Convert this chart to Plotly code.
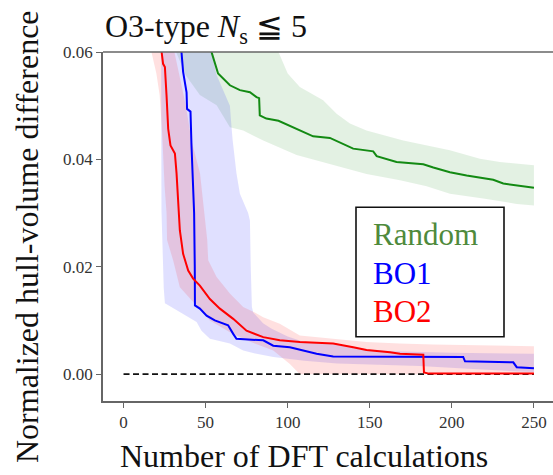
import plotly.graph_objects as go

# ---------------- data ----------------
rand_x = [53.0, 53.6, 57.6, 64.8, 70.9, 77.0, 81.0, 82.6, 83.0, 87.0, 94.4, 107.4, 115.5, 125.7,
          139.9, 152.1, 154.2, 166.3, 182.6, 188.7, 198.8, 209.0, 225.2, 231.3, 250.0]
rand_y = [0.065, 0.0600, 0.0560, 0.0538, 0.0529, 0.0525, 0.0516, 0.0514, 0.0482, 0.0476, 0.0472,
          0.0454, 0.0443, 0.0440, 0.0420, 0.0415, 0.0406, 0.0395, 0.0391, 0.0385, 0.0376, 0.0370,
          0.0362, 0.0355, 0.0347]
rand_lo_x = [30.0, 32.0, 38.0, 46.5, 56.7, 64.8, 72.9, 85.1, 105.4, 127.7, 148.0, 168.4, 184.6,
             198.8, 219.1, 239.5, 250.0]
rand_lo_y = [0.066, 0.0600, 0.0556, 0.0520, 0.0501, 0.0460, 0.0454, 0.0435, 0.0408, 0.0389, 0.0373,
             0.0361, 0.0350, 0.0336, 0.0327, 0.0317, 0.0314]
rand_hi_x = [30.0, 90.0, 94.4, 100.0, 107.4, 121.6, 129.8, 137.9, 148.0, 170.4, 198.8, 217.1, 229.3, 250.0]
rand_hi_y = [0.075, 0.065, 0.0600, 0.0560, 0.0535, 0.0510, 0.0485, 0.0467, 0.0454, 0.0435, 0.0417,
             0.0401, 0.0395, 0.0389]

bo1_x = [35.2, 35.3, 36.3, 38.4, 38.7, 40.8, 41.4, 43.0, 43.4, 43.5, 46.5, 50.6, 55.6, 63.7, 66.8,
         68.8, 85.1, 91.2, 101.3, 107.4, 117.6, 127.7, 206.9, 208.0, 237.4, 239.5, 250.0]
bo1_y = [0.066, 0.0600, 0.0563, 0.0525, 0.0494, 0.0489, 0.0426, 0.0300, 0.0200, 0.0128, 0.0122,
         0.0109, 0.0100, 0.0091, 0.0075, 0.0066, 0.0063, 0.0053, 0.0050, 0.0045, 0.0038, 0.0033,
         0.0032, 0.0024, 0.0022, 0.0013, 0.0011]
bo1_lo_x = [22.8, 23.1, 24.5, 25.2, 26.0, 36.3, 44.5, 47.5, 52.6, 64.8, 72.9, 81.0, 91.2, 110.0,
            130.0, 150.0, 180.0, 210.0, 240.0, 250.0]
bo1_lo_y = [0.070, 0.0305, 0.0160, 0.0132, 0.0130, 0.0112, 0.0097, 0.0081, 0.0066, 0.0057, 0.0044,
            0.0038, 0.0032, 0.0025, 0.0020, 0.0018, 0.0015, 0.0010, 0.0005, 0.0004]
bo1_hi_x = [22.8, 53.6, 56.7, 62.0, 64.8, 65.8, 66.5, 68.8, 70.9, 75.9, 77.0, 77.5, 78.2, 79.0,
            85.0, 90.0, 100.0, 110.0, 130.0, 150.0, 170.0, 200.0, 250.0]
bo1_hi_y = [0.070, 0.0600, 0.0557, 0.0520, 0.0500, 0.0460, 0.0435, 0.0374, 0.0336, 0.0300, 0.0286,
            0.0200, 0.0125, 0.0115, 0.0095, 0.0085, 0.0070, 0.0060, 0.0055, 0.0045, 0.0042, 0.0040,
            0.0038]

bo2_x = [23.0, 23.2, 24.1, 25.2, 26.2, 27.2, 28.6, 31.3, 32.3, 33.3, 33.9, 34.3, 36.3, 39.4, 42.4,
         46.5, 52.6, 58.7, 66.8, 74.9, 85.1, 95.2, 107.4, 127.7, 139.9, 148.0, 162.3, 168.4, 182.6,
         183.0, 186.0, 250.0]
bo2_y = [0.066, 0.0600, 0.0578, 0.0572, 0.0519, 0.0457, 0.0426, 0.0411, 0.0374, 0.0330, 0.0300,
         0.0268, 0.0224, 0.0193, 0.0178, 0.0165, 0.0140, 0.0122, 0.0103, 0.0081, 0.0069, 0.0063,
         0.0060, 0.0057, 0.0050, 0.0045, 0.0041, 0.0038, 0.0036, 0.0003, 0.0001, 0.0001]
bo2_lo_x = [16.0, 17.0, 20.0, 22.0, 23.5, 25.0, 26.2, 26.5, 30.2, 34.3, 43.4, 52.6, 64.8, 74.9,
            91.2, 101.3, 107.4, 250.0]
bo2_lo_y = [0.070, 0.0600, 0.0560, 0.0520, 0.0450, 0.0350, 0.0300, 0.0250, 0.0212, 0.0162, 0.0131,
            0.0100, 0.0078, 0.0063, 0.0044, 0.0019, 0.0000, 0.0000]
bo2_hi_x = [16.0, 31.0, 38.0, 41.4, 46.6, 49.0, 51.0, 51.6, 56.7, 64.8, 72.9, 80.0, 85.1, 95.2,
            107.4, 127.7, 148.0, 168.4, 188.7, 250.0]
bo2_hi_y = [0.075, 0.0600, 0.0500, 0.0435, 0.0374, 0.0300, 0.0250, 0.0212, 0.0181, 0.0150, 0.0125,
            0.0115, 0.0106, 0.0094, 0.0072, 0.0066, 0.0060, 0.0057, 0.0055, 0.0052]

ref_x = [0, 250]
ref_y = [0.0, 0.0]

x_ticks = [0, 50, 100, 150, 200, 250]
y_ticks = [0.00, 0.02, 0.04, 0.06]
y_ticklabels = ["0.00", "0.02", "0.04", "0.06"]

legend_labels = ["Random", "BO1", "BO2"]

# ---------------- figure ----------------
SERIF = "Liberation Serif, Times New Roman, serif"
fig = go.Figure()


def band(xl, yl, xh, yh, color):
    return go.Scatter(x=list(xh) + list(xl)[::-1], y=list(yh) + list(yl)[::-1],
                      fill="toself", fillcolor=color, line=dict(width=0),
                      mode="lines", hoverinfo="skip", showlegend=False)


fig.add_trace(band(rand_lo_x, rand_lo_y, rand_hi_x, rand_hi_y, "rgba(0,128,0,0.11)"))
fig.add_trace(band(bo1_lo_x, bo1_lo_y, bo1_hi_x, bo1_hi_y, "rgba(0,0,255,0.12)"))
fig.add_trace(band(bo2_lo_x, bo2_lo_y, bo2_hi_x, bo2_hi_y, "rgba(255,0,0,0.12)"))

fig.add_trace(go.Scatter(x=ref_x, y=ref_y, mode="lines",
                         line=dict(color="#111111", width=1.6, dash="6px,3.5px"), showlegend=False))
fig.add_trace(go.Scatter(x=rand_x, y=rand_y, mode="lines",
                         line=dict(color="#138a13", width=2), showlegend=False))
fig.add_trace(go.Scatter(x=bo1_x, y=bo1_y, mode="lines",
                         line=dict(color="#0000ff", width=2), showlegend=False))
fig.add_trace(go.Scatter(x=bo2_x, y=bo2_y, mode="lines",
                         line=dict(color="#ff0000", width=2), showlegend=False))

L, R, T, B = 103, 0, 52, 74
W, H = 553, 475
PW, PH = W - L - R, H - T - B


def px(x):
    return (x - L) / PW


def py(y):
    return (H - B - y) / PH


fig.update_layout(
    width=W, height=H,
    margin=dict(l=L, r=R, t=T, b=B, pad=0),
    paper_bgcolor="white", plot_bgcolor="white",
    font=dict(family=SERIF, color="#333333"),
    showlegend=False,
    xaxis=dict(range=[-12.5, 261.6], tickvals=x_ticks, ticks="outside", ticklen=5,
               tickcolor="#666666", tickwidth=1.2, showline=True, linecolor="#666666",
               linewidth=1.5, mirror=False, showgrid=False, zeroline=False,
               tickfont=dict(size=17, family=SERIF, color="#333333")),
    yaxis=dict(range=[-0.005, 0.06], tickvals=y_ticks, ticktext=y_ticklabels, ticks="outside",
               ticklen=5, tickcolor="#666666", tickwidth=1.2, showline=True,
               linecolor="#666666", linewidth=1.5, mirror=False, showgrid=False, zeroline=False,
               tickfont=dict(size=17, family=SERIF, color="#333333")),
)

annotations = [
    dict(text="O3-type <i>N</i><sub>s</sub> ≦ 5", x=px(103), y=py(29), xanchor="left",
         yanchor="middle", font=dict(size=32, family=SERIF, color="#111111")),
    dict(text="Number of DFT calculations", x=px(303.5), y=py(456), xanchor="center",
         yanchor="middle", font=dict(size=32, family=SERIF, color="#111111")),
    dict(text="Normalized hull-volume difference", x=px(27), y=py(237), textangle=-90,
         xanchor="center", yanchor="middle", font=dict(size=32, family=SERIF, color="#111111")),
]
legend_colors = ["#4f8a3c", "#0000ff", "#ff0000"]
legend_y = [234.5, 273.8, 311.2]
for lab, col, yy in zip(legend_labels, legend_colors, legend_y):
    annotations.append(dict(text=lab, x=px(370.7), y=py(yy), xanchor="left", yanchor="middle",
                            font=dict(size=31, family=SERIF, color=col)))
for a in annotations:
    a.update(xref="paper", yref="paper", showarrow=False)
fig.update_layout(annotations=annotations)

# top spine (no right spine in the reference)
fig.add_shape(type="line", xref="paper", yref="paper", x0=0, x1=1, y0=1, y1=1,
              line=dict(color="#666666", width=1.5), layer="above")
fig.add_shape(type="rect", xref="paper", yref="paper", x0=px(356), x1=px(504),
              y0=py(336.7), y1=py(207.3), line=dict(color="#111111", width=1.6),
              fillcolor="white", layer="above")

fig.write_html("out.html")
